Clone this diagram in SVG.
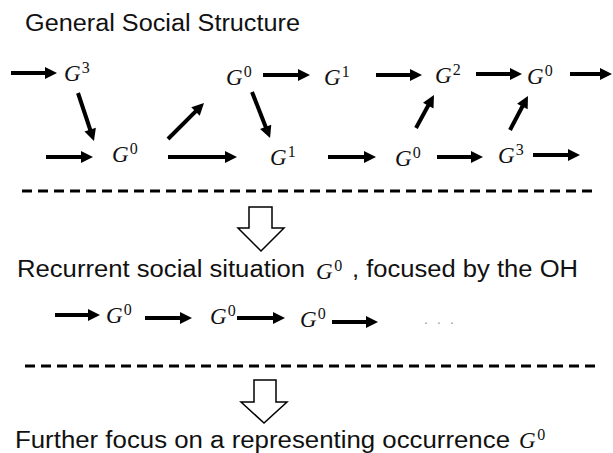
<svg xmlns="http://www.w3.org/2000/svg" width="613" height="453" viewBox="0 0 613 453">
<style>
.txt{font-family:"Liberation Sans",Arial,sans-serif;font-size:23px;fill:#111}
.g{font-family:"Liberation Serif","Times New Roman",serif;font-style:italic;font-size:23px;fill:#111}
.sup{font-family:"Liberation Serif","Times New Roman",serif;font-style:normal;font-size:16px}
.arr{stroke:#000;stroke-width:4;fill:none;marker-end:url(#ah)}
.dash{stroke:#000;stroke-width:3;stroke-dasharray:10 6;fill:none}
.block{fill:#fff;stroke:#000;stroke-width:1.5;stroke-linejoin:miter}
.dots{font-family:"Liberation Sans",Arial,sans-serif;font-size:14px;fill:#999;letter-spacing:2.6px}
</style>
<defs>
<marker id="ah" markerUnits="userSpaceOnUse" markerWidth="14" markerHeight="14" viewBox="0 -7 13 14" refX="2" refY="0" orient="auto">
<path d="M0,-6 L12,0 L0,6 z" fill="#000"/>
</marker>
</defs>
<rect width="613" height="453" fill="#fff"/>
<text class="txt" x="25" y="31" font-size="22" textLength="275" lengthAdjust="spacingAndGlyphs">General Social Structure</text>

<g id="connectors">
<line class="arr" x1="11" y1="73" x2="47" y2="73"/>
<line class="arr" x1="263" y1="75" x2="300" y2="75"/>
<line class="arr" x1="376" y1="75" x2="412" y2="75"/>
<line class="arr" x1="476" y1="74" x2="512" y2="74"/>
<line class="arr" x1="570" y1="74" x2="602" y2="74"/>
<line class="arr" x1="46" y1="157" x2="83" y2="157"/>
<line class="arr" x1="168" y1="157" x2="227" y2="157"/>
<line class="arr" x1="328" y1="157" x2="366" y2="157"/>
<line class="arr" x1="437" y1="157" x2="473" y2="157"/>
<line class="arr" x1="533" y1="155" x2="570" y2="155"/>
<line class="arr" x1="78" y1="93" x2="90.8" y2="131.5"/>
<line class="arr" x1="168" y1="139" x2="196.9" y2="110.1"/>
<line class="arr" x1="252" y1="92" x2="266.4" y2="128.7"/>
<line class="arr" x1="416" y1="128" x2="429.2" y2="103.8"/>
<line class="arr" x1="510" y1="130" x2="523.3" y2="104.8"/>
<line class="arr" x1="55" y1="315" x2="90" y2="315"/>
<line class="arr" x1="145" y1="318" x2="182" y2="318"/>
<line class="arr" x1="237" y1="318" x2="275" y2="318"/>
<line class="arr" x1="332" y1="322" x2="368" y2="322"/>
</g>

<g id="n_r1_g3"><text class="g" x="64" y="81">G<tspan class="sup" dx="1" dy="-8">3</tspan></text></g>
<g id="n_r1_g0a"><text class="g" x="226" y="85">G<tspan class="sup" dx="1" dy="-8">0</tspan></text></g>
<g id="n_r1_g1"><text class="g" x="324" y="85">G<tspan class="sup" dx="1" dy="-8">1</tspan></text></g>
<g id="n_r1_g2"><text class="g" x="435" y="83">G<tspan class="sup" dx="1" dy="-8">2</tspan></text></g>
<g id="n_r1_g0b"><text class="g" x="527" y="84">G<tspan class="sup" dx="1" dy="-8">0</tspan></text></g>
<g id="n_r2_g0a"><text class="g" x="112" y="162">G<tspan class="sup" dx="1" dy="-8">0</tspan></text></g>
<g id="n_r2_g1"><text class="g" x="270" y="165">G<tspan class="sup" dx="1" dy="-8">1</tspan></text></g>
<g id="n_r2_g0b"><text class="g" x="395" y="166">G<tspan class="sup" dx="1" dy="-8">0</tspan></text></g>
<g id="n_r2_g3"><text class="g" x="498" y="163">G<tspan class="sup" dx="1" dy="-8">3</tspan></text></g>

<line class="dash" x1="22" y1="191" x2="593" y2="191"/>
<polygon class="block" points="249,207 272,207 272,228 284,228 261,251 238,228 249,228"/>

<text class="txt" x="17" y="277" textLength="288" lengthAdjust="spacingAndGlyphs">Recurrent social situation</text>
<text class="g" x="316" y="279">G<tspan class="sup" dx="1.5" dy="-8">0</tspan></text>
<text class="txt" x="352" y="277" textLength="226" lengthAdjust="spacingAndGlyphs">, focused by the OH</text>

<g id="n_r3_g0a"><text class="g" x="106" y="323">G<tspan class="sup" dx="1" dy="-8">0</tspan></text></g>
<g id="n_r3_g0b"><text class="g" x="210" y="324">G<tspan class="sup" dx="1" dy="-8">0</tspan></text></g>
<g id="n_r3_g0c"><text class="g" x="300" y="327">G<tspan class="sup" dx="1" dy="-8">0</tspan></text></g>
<text class="dots" x="424" y="324">. . .</text>

<line class="dash" x1="25" y1="366" x2="601" y2="366"/>
<polygon class="block" points="254,380 276,380 276,402 287,402 264,423 241,402 254,402"/>

<text class="txt" x="15" y="448" textLength="495" lengthAdjust="spacingAndGlyphs">Further focus on a representing occurrence</text>
<text class="g" x="519" y="448">G<tspan class="sup" dx="1.5" dy="-8">0</tspan></text>
</svg>
